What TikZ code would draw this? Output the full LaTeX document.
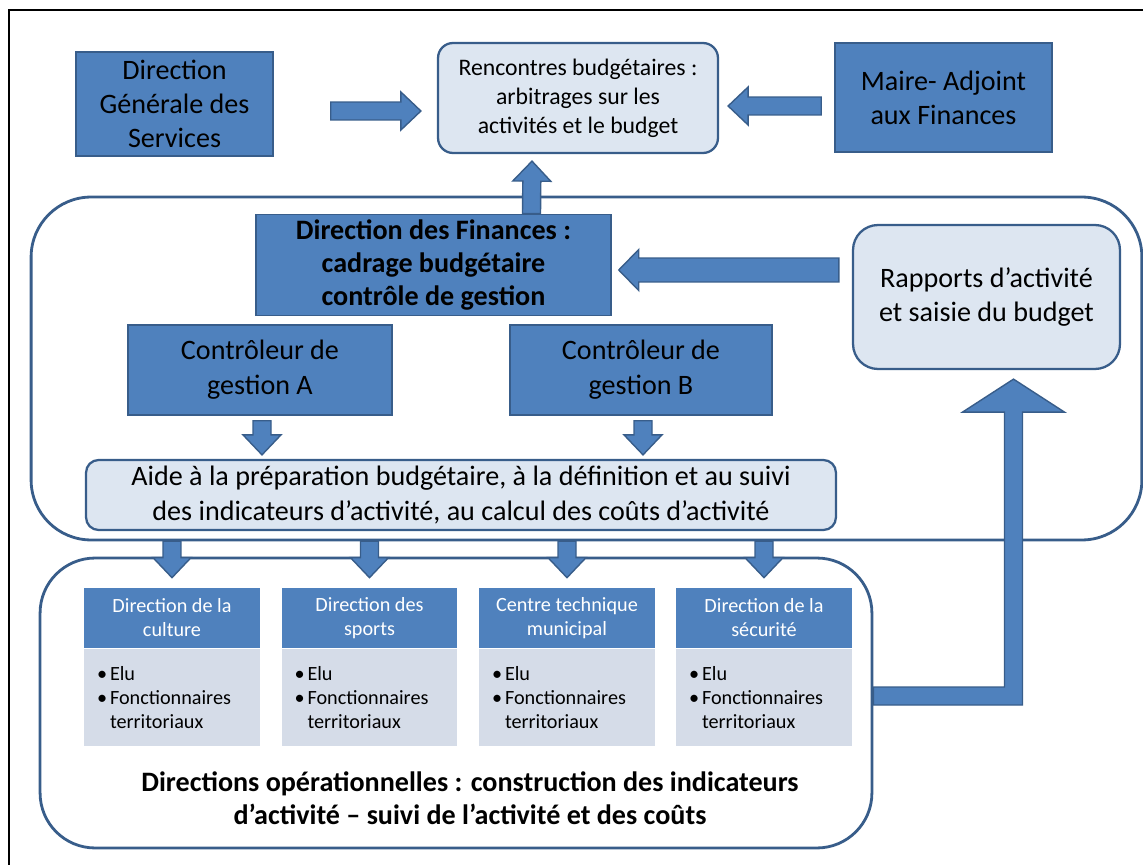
\documentclass[tikz,border=0pt]{standalone}
\usepackage{fontspec}
\setmainfont{Carlito}
\usetikzlibrary{calc,positioning}

\definecolor{boxblue}{HTML}{4F81BD}
\definecolor{edgeblue}{HTML}{385D8A}
\definecolor{softblue}{HTML}{DDE6F1}
\definecolor{cardgray}{HTML}{D5DCE8}

% half shaft width, half head width, head length
\newcommand{\shaftw}{0.18cm}
\newcommand{\headw}{0.38cm}
\newcommand{\headl}{0.4cm}
% block arrow from #1 to #2
\newcommand{\blockarrow}[2]{%
  \coordinate (ba-h) at ($(#2)!\headl!(#1)$);
  \draw[barrow] ($(#1)!\shaftw!-90:(#2)$) -- ($(ba-h)!\shaftw!-90:(#2)$)
    -- ($(ba-h)!\headw!-90:(#2)$) -- (#2) -- ($(ba-h)!\headw!90:(#2)$)
    -- ($(ba-h)!\shaftw!90:(#2)$) -- ($(#1)!\shaftw!90:(#2)$) -- cycle;
}

\begin{document}
\begin{tikzpicture}[x=0.02cm, y=-0.02cm,
  bluebox/.style={rectangle, draw=edgeblue, line width=0.9pt, fill=boxblue, align=center,
    font=\fontsize{16}{19.5}\selectfont},
  softbox/.style={rectangle, rounded corners=0.3cm, draw=edgeblue, line width=1.3pt,
    fill=softblue, align=center, font=\fontsize{16}{19.5}\selectfont},
  zone/.style={rectangle, rounded corners=1.2cm, draw=edgeblue, line width=1.6pt},
  cardhead/.style={rectangle, fill=boxblue, text=white, minimum width=3.52cm,
    minimum height=1.2cm, align=center, font=\fontsize{11.5}{13.7}\selectfont},
  cardbody/.style={rectangle, fill=cardgray, minimum height=1.94cm, text width=3.0cm,
    inner xsep=0.26cm, align=left, font=\fontsize{11.5}{13.7}\selectfont},
  barrow/.style={fill=boxblue, draw=edgeblue, line width=0.8pt}]

  \useasboundingbox (0,0) rectangle (1143,865);
  \clip (0,0) rectangle (1143,865);

  % outer frame
  \draw[line width=1.2pt] (9,900) -- (9,10) -- (1200,10);

  % zones
  \node[zone, minimum width=22.22cm, minimum height=6.86cm] (upzone) at (586.5,368.5) {};
  \node[zone, rounded corners=1.1cm, minimum width=16.64cm, minimum height=5.8cm] (lowzone) at (456,703) {};

  % top row
  \node[bluebox, minimum width=3.94cm, minimum height=2.08cm] (dgs) at (174.5,104) {Direction\\Générale des\\Services};
  \node[softbox, minimum width=5.6cm, minimum height=2.2cm, font=\fontsize{13.5}{16.5}\selectfont] (renc) at (578,98)
    {Rencontres budgétaires :\\arbitrages sur les\\activités et le budget};
  \node[bluebox, minimum width=4.34cm, minimum height=2.18cm] (maire) at (943.5,97.5) {Maire- Adjoint\\aux Finances};

  % finance direction
  \node[bluebox, minimum width=7.1cm, minimum height=2.0cm, font=\fontsize{16}{18.5}\selectfont\bfseries] (df) at (433.5,265)
    {Direction des Finances :\\cadrage budgétaire\\contrôle de gestion};
  \node[softbox, rounded corners=0.5cm, minimum width=5.34cm, minimum height=2.88cm] (rapp) at (986.5,297)
    {Rapports d’activité\\et saisie du budget};
  \node[bluebox, minimum width=5.28cm, minimum height=1.8cm, font=\fontsize{16}{20}\selectfont] (ctrlA) at (260,370) {Contrôleur de\\gestion A};
  \node[bluebox, minimum width=5.24cm, minimum height=1.8cm, font=\fontsize{16}{20}\selectfont] (ctrlB) at (641,370) {Contrôleur de\\gestion B};
  \node[softbox, rounded corners=0.25cm, minimum width=15cm, minimum height=1.4cm] (aide) at (461,495)
    {Aide à la préparation budgétaire, à la définition et au suivi\\des indicateurs d’activité, au calcul des coûts d’activité};

  % operational directions
  \foreach \i/\x/\title in {1/172/{Direction de la\\culture}, 2/369.5/{Direction des\\sports},
      3/567/{Centre technique\\municipal}, 4/764/{Direction de la\\sécurité}} {
    \node[cardhead] (head\i) at (\x,618) {\title};
    \node[cardbody, below=0pt of head\i] (body\i)
      {\makebox[0.26cm][l]{•}Elu\\\makebox[0.26cm][l]{•}Fonctionnaires\\\hspace*{0.26cm}territoriaux};
  }
  \node[align=center, font=\fontsize{16}{18.8}\selectfont\bfseries] (lowtitle) at (470,798)
    {Directions opérationnelles : construction des indicateurs\\d’activité – suivi de l’activité et des coûts};

  % block arrows
  \coordinate (dgs-out) at ($(dgs.east)+(57,7)$);
  \coordinate (renc-w) at ($(renc.west)+(-16,13)$);
  \blockarrow{dgs-out}{renc-w}
  \coordinate (maire-out) at ($(maire.west)+(-13,8.5)$);
  \coordinate (renc-e) at ($(renc.east)+(9,8)$);
  \blockarrow{maire-out}{renc-e}
  \coordinate (df-out) at ($(df.north)+(98,0)$);
  \coordinate (renc-s) at ($(renc.south)+(-46,7)$);
  \blockarrow{df-out}{renc-s}
  {\renewcommand{\shaftw}{0.24cm}\renewcommand{\headw}{0.41cm}
  \coordinate (rapp-out) at ($(rapp.west)+(-13,-27)$);
  \coordinate (df-e) at ($(df.east)+(7,5)$);
  \blockarrow{rapp-out}{df-e}}
  \foreach \c in {ctrlA,ctrlB} {
    \coordinate (\c-out) at ($(\c.south)+(2,5)$);
    \coordinate (\c-in) at ($(aide.north -| \c-out)+(0,-4)$);
    \blockarrow{\c-out}{\c-in}
  }
  \foreach \i in {1,...,4} {
    \coordinate (aide-out\i) at ($(aide.south -| head\i.north)+(0,10)$);
    \coordinate (head-in\i) at ($(head\i.north)+(0,-10)$);
    \blockarrow{aide-out\i}{head-in\i}
  }

  % return arrow to the reports
  \coordinate (elb-s) at ($(lowzone.east)+(0,-7)$);
  \coordinate (elb-t) at ($(rapp.south)+(27,9)$);
  \draw[barrow] ($(elb-s)+(0,-9)$) -- ($(elb-s -| elb-t)+(-9,-9)$) -- ($(elb-t)+(-9,33)$)
    -- ($(elb-t)+(-51,33)$) -- (elb-t) -- ($(elb-t)+(51,33)$) -- ($(elb-t)+(9,33)$)
    -- ($(elb-s -| elb-t)+(9,9)$) -- ($(elb-s)+(0,9)$) -- cycle;

\end{tikzpicture}
\end{document}
